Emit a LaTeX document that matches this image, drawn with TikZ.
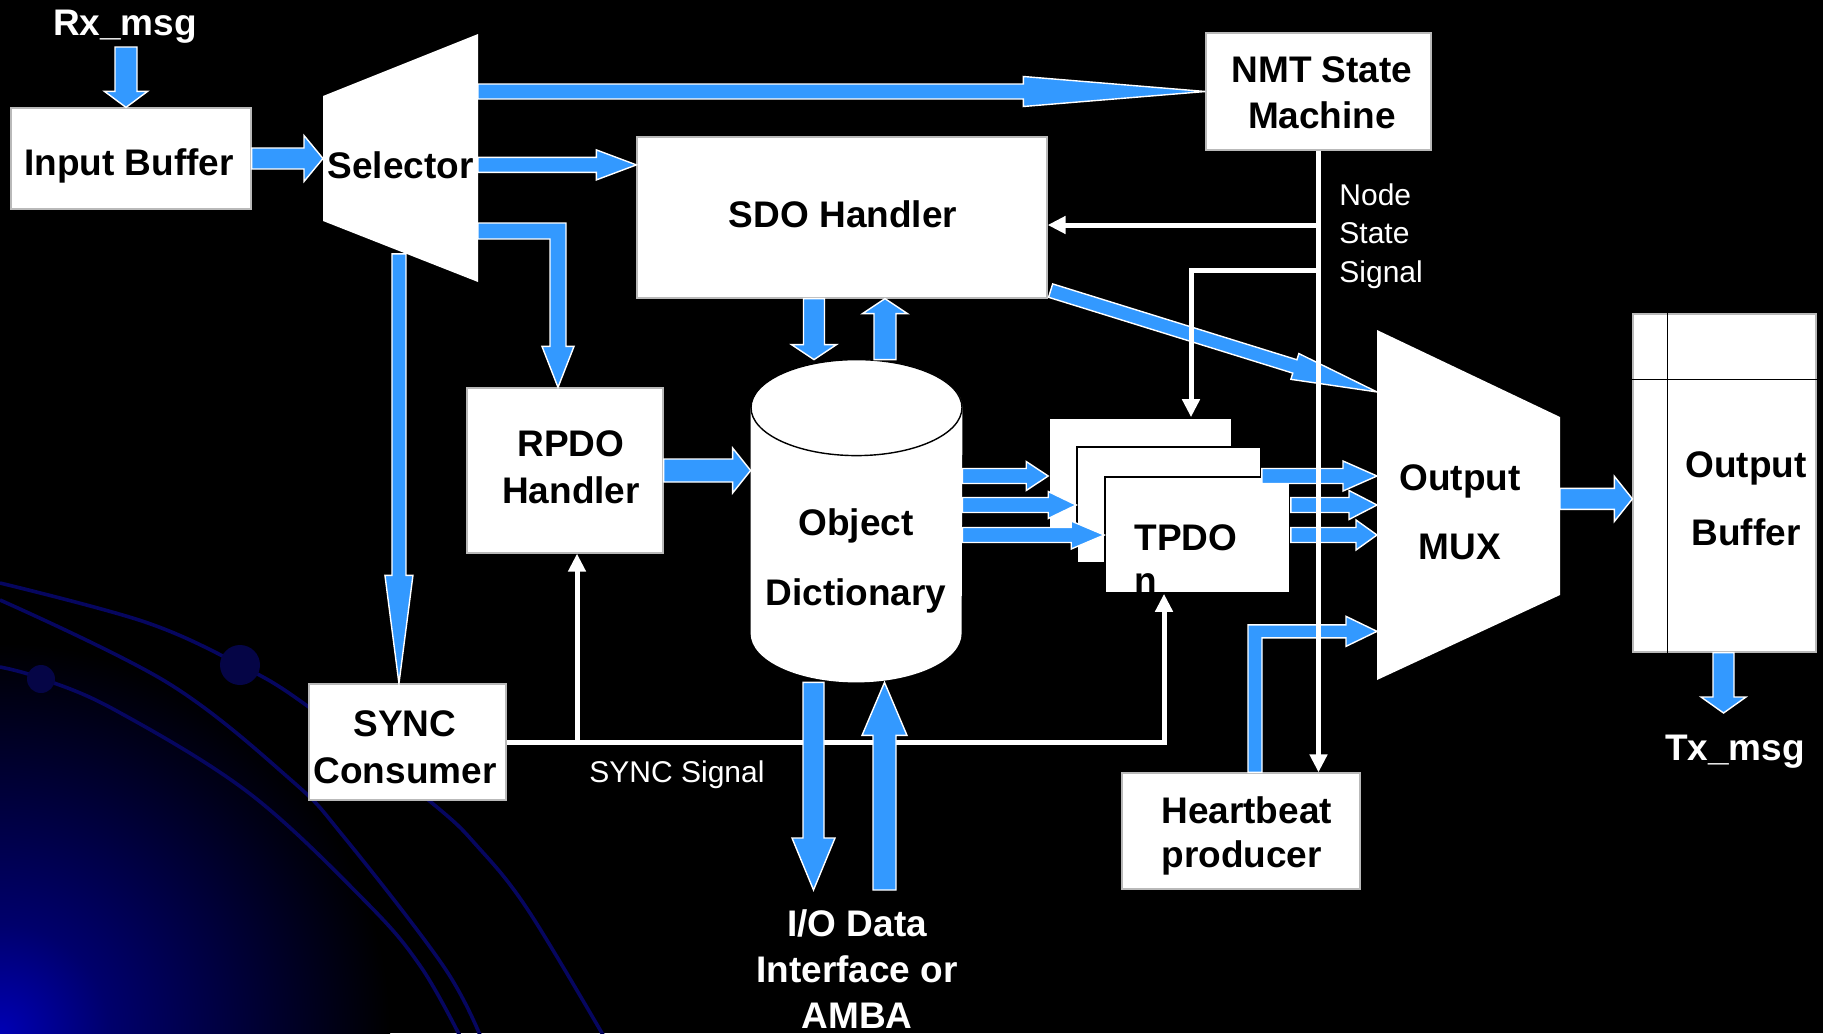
\documentclass[tikz,border=0pt]{standalone}
\usepackage{fontspec}
\setmainfont{Liberation Sans}
\usetikzlibrary{calc,arrows.meta}

\definecolor{flowblue}{RGB}{51,153,255}
\definecolor{glow}{RGB}{0,0,180}
\definecolor{orbitblue}{RGB}{6,6,95}
\definecolor{orbitdot}{RGB}{5,5,70}
\definecolor{boxedge}{RGB}{185,185,185}

\pgfdeclareradialshading{cornerglow}{\pgfpointorigin}{color(0bp)=(glow); color(7bp)=(glow!60!black); color(25bp)=(black); color(50bp)=(black)}

% one drawing unit = 0.5pt
\def\px{0.5pt}

% \blockarrow{from}{to}{shaft half width}{head half width}{head length}
\newcommand\blockarrow[5]{%
  \path let \p1=(#1), \p2=(#2) in
    \pgfextra{%
      \pgfmathsetmacro\baA{atan2(\y2-\y1,\x2-\x1)}%
      \pgfmathsetmacro\baL{veclen(\x2-\x1,\y2-\y1)}%
      \xdef\baA{\baA}\xdef\baL{\baL}%
      \xdef\baX{\x1}\xdef\baY{\y1}%
    };
  \filldraw[flow,shift={(\baX,\baY)},rotate=\baA]
    (0pt,{#3*\px}) -- ({\baL pt-#5*\px},{#3*\px}) -- ({\baL pt-#5*\px},{#4*\px})
    -- (\baL pt,0pt) -- ({\baL pt-#5*\px},{-#4*\px}) -- ({\baL pt-#5*\px},{-#3*\px})
    -- (0pt,{-#3*\px}) -- cycle;
}

\tikzset{
  box/.style={fill=white, draw=boxedge, line width=0.6pt, inner sep=0pt},
  tpdobox/.style={fill=white, draw=black, line width=0.8pt, inner sep=0pt, minimum height=58pt},
  flow/.style={fill=flowblue, draw=white, line width=0.7pt},
  sig/.style={draw=white, line width=2.5pt, -{Triangle[length=9pt,width=8.5pt]}},
  lbl/.style={font=\bfseries\fontsize{18.5}{22}\selectfont, inner sep=0pt, anchor=base, text=black},
  note/.style={font=\fontsize{15}{18}\selectfont, inner sep=0pt, anchor=base, text=white},
  orbit/.style={draw=orbitblue, line width=1.8pt},
}

\begin{document}
\begin{tikzpicture}[x=0.5pt, y=-0.5pt]
\useasboundingbox (0,0) rectangle (1823,1033);

% backdrop
\fill[black] (0,0) rectangle (1823,1033);
\begin{scope}
  \clip (0,0) rectangle (1823,1033);
  \shade[shading=cornerglow] (0,1033) circle (195pt);
  \draw[orbit] plot[smooth, tension=0.6] coordinates {(0,583) (145,622) (240,665) (306,705) (432,803) (478,847) (528,910) (606,1040)};
  \draw[orbit] plot[smooth, tension=0.6] coordinates {(0,600) (168,683) (291,780) (344,837) (444,967) (482,1040)};
  \draw[orbit] plot[smooth, tension=0.6] coordinates {(0,667) (40,678) (115,710) (249,793) (367,903) (421,967) (462,1040)};
  \fill[orbitdot] (240,665) circle (10pt);
  \fill[orbitdot] (41,679) circle (7pt);
\end{scope}

% blocks
\coordinate (sel-nw) at (323,96);
\coordinate (sel-ne) at (478,34);
\coordinate (sel-se) at (478,282);
\coordinate (sel-sw) at (323,221);
\coordinate (mux-nw) at (1377,330);
\coordinate (mux-ne) at (1560,417);
\coordinate (mux-se) at (1560,595);
\coordinate (mux-sw) at (1377,680);

\node[box, minimum width=120pt, minimum height=50.5pt] (ib) at (131,158.5) {};
\node[box, minimum width=112.5pt, minimum height=58.5pt] (nmt) at (1318.5,91.5) {};
\node[box, minimum width=205pt, minimum height=80.5pt] (sdo) at (842,217.5) {};
\node[box, minimum width=98pt, minimum height=82.5pt] (rpdo) at (565,470.5) {};
\node[box, minimum width=98.5pt, minimum height=58pt] (sync) at (407.5,742) {};
\node[box, minimum width=119pt, minimum height=58pt] (hb) at (1241,831) {};
\node[box, minimum width=91.5pt, minimum height=169pt] (ob) at (1724.5,483) {};
\node[inner sep=0pt, minimum width=105.5pt, minimum height=161pt] (od) at (856.5,521) {};

\fill[white] (sel-nw) -- (sel-ne) -- (sel-se) -- (sel-sw) -- cycle;
\fill[white] (mux-nw) -- (mux-ne) -- (mux-se) -- (mux-sw) -- cycle;

% output buffer cells
\draw[black, line width=0.9pt] ($(ob.north west)+(35,0)$) -- ($(ob.south west)+(35,0)$);
\draw[black, line width=0.9pt] ($(ob.north west)+(0,66)$) -- ($(ob.north east)+(0,66)$);

% object dictionary drum
\fill[white] ($(od.north west)+(0,48)$) -- ($(od.south west)+(0,-49)$)
  arc[start angle=180, end angle=360, x radius=52.75pt, y radius=24.5pt]
  -- ($(od.north east)+(0,48)$)
  arc[start angle=0, end angle=180, x radius=52.75pt, y radius=24pt] -- cycle;
\draw[black, line width=0.7pt] ($(od.north)+(0,48)$) ellipse [x radius=52.75pt, y radius=24pt];

% SYNC signal wiring
\coordinate (rp-sync) at ($(rpdo.south)+(12,0)$);
\node[tpdobox, minimum width=91.5pt] (tb1) at (1140.5,476) {};
\node[tpdobox, minimum width=92pt] (tb2) at (1169,505) {};
\node[tpdobox, minimum width=92.5pt] (tb3) at (1197.5,535) {};
\coordinate (tp-sync) at ($(tb3.south)+(-33.5,0)$);
\coordinate (tp-in) at ($(tb1.north)+(50.5,0)$);
\draw[sig] (sync.east) -| (tp-sync);
\draw[sig] (rp-sync |- sync.east) -- (rp-sync);

% data flow
\coordinate (rx-out) at (126,47);
\coordinate (tx-in) at (1723.5,713);
\coordinate (io-down) at (813.5,890);
\coordinate (io-up) at (884.5,890);
\coordinate (sdo-in) at ($(sdo.north west)+(0,28.5)$);
\coordinate (sync-src) at ($(sel-sw)!0.49!(sel-se)+(0,3)$);
\coordinate (sd-a) at ($(sdo.south)+(-28,0)$);
\coordinate (sd-b) at ($(sdo.south)+(43,0)$);
\coordinate (mux-out) at ($(mux-ne)!0.46!(mux-se)$);
\coordinate (rp-bend) at (558,231);
\coordinate (rp-in) at (rp-bend |- rpdo.north);
\coordinate (hb-out) at ($(hb.north)+(14,0)$);
\coordinate (hb-in) at ($(mux-nw)!0.861!(mux-sw)$);

\blockarrow{rx-out}{rx-out |- ib.north}{11}{21.5}{16}
\blockarrow{ib.east}{ib.east -| sel-sw}{10.5}{23}{19}
\blockarrow{nmt.west -| sel-ne}{nmt.west}{7.5}{15}{182}
\blockarrow{sdo-in -| sel-ne}{sdo-in}{7.5}{15}{40}
\filldraw[flow] ($(rp-bend -| sel-ne)+(0,-8)$) -- ($(rp-bend)+(8,-8)$) -- ($(rp-in)+(8,-41)$)
  -- ($(rp-in)+(16,-41)$) -- (rp-in) -- ($(rp-in)+(-16,-41)$) -- ($(rp-in)+(-8,-41)$)
  -- ($(rp-bend)+(-8,8)$) -- ($(rp-bend -| sel-ne)+(0,8)$) -- cycle;
\blockarrow{sync-src}{sync-src |- sync.north}{7}{14}{108}
\blockarrow{sd-a}{sd-a |- od.north}{10.5}{22.5}{15}
\blockarrow{sd-b |- od.north}{sd-b}{11}{22.5}{15}
\blockarrow{rpdo.east}{rpdo.east -| od.west}{11.5}{22.5}{18}
\blockarrow{$(sdo.south east)+(3,-8)$}{$(mux-nw)!0.177!(mux-sw)$}{7}{13.5}{86}
\blockarrow{tb1.west -| od.east}{tb1.west}{7.5}{14.5}{22}
\blockarrow{tb2.west -| od.east}{tb2.west}{7.5}{13.5}{28}
\blockarrow{tb3.west -| od.east}{tb3.west}{7.5}{14}{33}
\blockarrow{tb1.west -| tb2.east}{tb1.west -| mux-nw}{7.5}{15}{34}
\blockarrow{tb2.west -| tb3.east}{tb2.west -| mux-nw}{7.5}{14.5}{28}
\blockarrow{tb3.east}{tb3.east -| mux-nw}{7.5}{15}{21}
\filldraw[flow] ($(hb-out)+(-7,0)$) -- ($(hb-out |- hb-in)+(-7,-6.5)$) -- ($(hb-in)+(-31,-6.5)$)
  -- ($(hb-in)+(-31,-15)$) -- (hb-in) -- ($(hb-in)+(-31,15)$) -- ($(hb-in)+(-31,6.5)$)
  -- ($(hb-out |- hb-in)+(7,6.5)$) -- ($(hb-out)+(7,0)$) -- cycle;
\blockarrow{mux-out}{mux-out -| ob.west}{10.5}{22.5}{18}
\blockarrow{tx-in |- ob.south}{tx-in}{10.5}{22.5}{16}
\blockarrow{io-down |- od.south}{io-down}{10.5}{21.5}{52}
\blockarrow{io-up}{io-up |- od.south}{11.5}{22.5}{53}

% node state wiring
\draw[sig] (nmt.south) -- (nmt.south |- hb.north);
\draw[sig] (nmt.south |- 0,225) -- (sdo.east |- 0,225);
\draw[sig] (nmt.south |- 0,270) -| (tp-in);

% labels
\node[lbl, text=white] (rx) at (125,35) {Rx\_msg};
\node[lbl] (ib-t) at (129,175) {Input Buffer};
\node[lbl] (sel-t) at (400.5,178) {Selector};
\node[lbl] (nmt-t1) at (1322,82) {NMT State};
\node[lbl] (nmt-t2) at (1322,128) {Machine};
\node[lbl] (sdo-t) at (843,227) {SDO Handler};
\node[lbl] (rpdo-t1) at (571,456) {RPDO};
\node[lbl] (rpdo-t2) at (571,503) {Handler};
\node[lbl] (od-t1) at (856,535) {Object};
\node[lbl] (od-t2) at (856,605) {Dictionary};
\node[lbl] (sync-t1) at (405,736) {SYNC};
\node[lbl] (sync-t2) at (405,783) {Consumer};
\node[lbl, anchor=base west] (tp-t1) at (1134,550) {TPDO};
\node[lbl, anchor=base west] (tp-t2) at (1134,593) {n};
\node[lbl] (mux-t1) at (1460,490) {Output};
\node[lbl] (mux-t2) at (1460,559) {MUX};
\node[lbl] (ob-t1) at (1746,477) {Output};
\node[lbl] (ob-t2) at (1746,545) {Buffer};
\node[lbl, text=white] (tx) at (1735,760) {Tx\_msg};
\node[lbl, anchor=base west] (hb-t1) at (1161,823) {Heartbeat};
\node[lbl, anchor=base west] (hb-t2) at (1161,867) {producer};
\node[lbl, text=white] (io1) at (857,936) {I/O Data};
\node[lbl, text=white] (io2) at (857,982) {Interface or};
\node[lbl, text=white] (io3) at (857,1028) {AMBA};
\node[note] (syncsig) at (677,782) {SYNC Signal};
\node[note, anchor=base west] (ns1) at (1339,205) {Node};
\node[note, anchor=base west] (ns2) at (1339,243) {State};
\node[note, anchor=base west] (ns3) at (1339,282) {Signal};
\end{tikzpicture}
\end{document}
